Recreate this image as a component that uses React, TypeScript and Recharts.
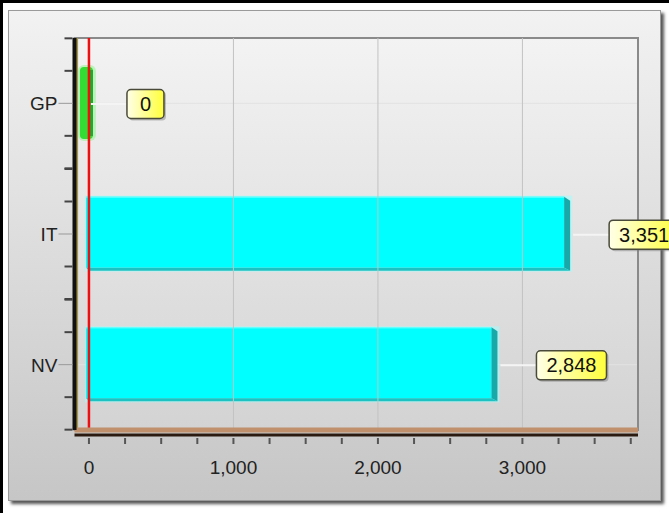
import React from 'react';
import {
    BarChart, Bar, XAxis, YAxis, CartesianGrid, ReferenceLine, ReferenceArea, LabelList, Cell,
} from 'recharts';

const categories = ['GP', 'IT', 'NV'];
const values = [0, 3351, 2848];
const barColors = ['#33dd33', '#00ffff', '#00ffff'];
const xTicks = [0, 250, 500, 750, 1000, 1250, 1500, 1750, 2000, 2250, 2500, 2750, 3000, 3250, 3500, 3750];
const gridValues = [1000, 2000, 3000];

const data = categories.map((name, i) => ({ name, value: values[i] }));

const FONT = '"Liberation Sans", Arial, sans-serif';
const BAND = 130;
const DOMAIN: [number, number] = [-100, 3800];

const fmt = (v: number) => v.toLocaleString('en-US');

const textWidth = (s: string, size: number) =>
    s.split('').reduce((w, ch) => w + (ch === ',' ? 0.278 : 0.556), 0) * size;

const Bar3D = (props: any) => {
    const { x, y, width, height, fill } = props;
    if (width < 5) {
        // zero value: narrow green stub
        return (
            <g>
                <rect x={x - 11} y={y - 1} width={18} height={height + 2} rx={6} fill="#9af59a" opacity={0.6} />
                <rect x={x - 9} y={y + 1} width={13} height={height - 2} rx={4} fill={fill} />
                <rect x={x + 1} y={y + 4} width={3} height={height - 8} fill="#22a82a" />
            </g>
        );
    }
    const bx = x - 3;
    return (
        <g>
            <rect x={bx - 1} y={y - 1} width={width + 3} height={height + 2} fill="#9ff" opacity={0.5} />
            <rect x={bx} y={y} width={width - 6} height={height - 3} fill={fill} />
            <polygon
                points={`${bx + width - 6},${y} ${bx + width},${y + 4} ${bx + width},${y + height} ${bx + width - 6},${y + height - 3}`}
                fill="#17a9a9"
            />
            <polygon
                points={`${bx},${y + height - 3} ${bx + width - 6},${y + height - 3} ${bx + width},${y + height} ${bx + 4},${y + height}`}
                fill="#1cc2c2"
            />
            <line x1={bx} y1={y + 0.5} x2={bx + width - 6} y2={y + 0.5} stroke="#7ff" />
        </g>
    );
};

const ValueLabel = (props: any) => {
    const { x, y, width, height, value } = props;
    const end = x + width;
    const cy = y + height / 2 + 1;
    const text = fmt(value);
    const bw = Math.max(37, textWidth(text, 20) + 20);
    const bh = 29;
    const bx = end + 36;
    return (
        <g>
            <line x1={end} y1={cy} x2={bx} y2={cy} stroke="#f4f4f4" strokeWidth={2} />
            <rect x={bx + 2} y={cy - bh / 2 + 2} width={bw} height={bh} rx={4} fill="#777" opacity={0.45} />
            <rect x={bx} y={cy - bh / 2} width={bw} height={bh} rx={4} fill="url(#labelBg)" stroke="#4a4a3a" strokeWidth={1.5} />
            <text x={bx + bw / 2} y={cy + 7} textAnchor="middle" fontFamily={FONT} fontSize={20} fill="#111">
                {text}
            </text>
        </g>
    );
};

const CategoryTick = (props: any) => {
    const { x, y, payload } = props;
    const minor = [-BAND / 2, -BAND / 4, BAND / 4, BAND / 2];
    return (
        <g>
            {minor.map((d) => (
                <line key={d} x1={x - 8} y1={y + d} x2={x} y2={y + d} stroke="#444" strokeWidth={2} />
            ))}
            <line x1={x - 14} y1={y} x2={x} y2={y} stroke="#999" />
            <text x={x - 15} y={y + 7} textAnchor="end" fontFamily={FONT} fontSize={19} fill="#222">
                {payload.value}
            </text>
        </g>
    );
};

const NumberTick = (props: any) => {
    const { x, y, payload } = props;
    const major = payload.value % 1000 === 0;
    return (
        <g>
            <line x1={x} y1={y + 3} x2={x} y2={y + 9} stroke="#555" strokeWidth={2} />
            {major && (
                <text x={x} y={y + 39} textAnchor="middle" fontFamily={FONT} fontSize={19} fill="#222">
                    {fmt(payload.value)}
                </text>
            )}
        </g>
    );
};

export default function App() {
    return (
        <div style={{ position: 'fixed', left: 0, top: 0, width: 669, height: 513, background: '#fff', overflow: 'hidden' }}>
            <div style={{ position: 'absolute', left: 0, top: 0, width: 669, height: 513, borderTop: '3px solid #000', borderLeft: '3px solid #000', boxSizing: 'border-box' }} />
            <div
                style={{
                    position: 'absolute', left: 8, top: 10, width: 651, height: 489,
                    background: 'linear-gradient(#f2f2f2, #c6c6c6)',
                    border: '1px solid #9a9a9a',
                    boxShadow: '3px 3px 3px #555',
                }}
            />
            <div style={{ position: 'absolute', left: 0, top: 0 }}>
                <BarChart
                    width={669}
                    height={513}
                    data={data}
                    layout="vertical"
                    margin={{ top: 38, right: 31, bottom: 28, left: 0 }}
                    barCategoryGap={28}
                >
                    <defs>
                        <linearGradient id="plotBg" x1="0" y1="0" x2="0" y2="1">
                            <stop offset="0%" stopColor="#f3f3f3" />
                            <stop offset="100%" stopColor="#d3d3d3" />
                        </linearGradient>
                        <linearGradient id="labelBg" x1="0" y1="0" x2="1" y2="0">
                            <stop offset="0%" stopColor="#ffffe8" />
                            <stop offset="100%" stopColor="#ffff3a" />
                        </linearGradient>
                    </defs>
                    <CartesianGrid fill="url(#plotBg)" vertical={false} stroke="#e2e2e2" />
                    <ReferenceArea x1={DOMAIN[0]} x2={DOMAIN[1]} fill="none" stroke="#8a8a8a" strokeWidth={2} />
                    <ReferenceArea x1={DOMAIN[0]} x2={-75} fill="#a8984e" fillOpacity={1} stroke="none" />
                    {gridValues.map((v) => (
                        <ReferenceLine key={v} x={v} stroke="#c2c2c2" />
                    ))}
                    {/* brown floor (default axis, nearest the plot) */}
                    <XAxis
                        type="number"
                        domain={DOMAIN}
                        height={5}
                        tick={false}
                        tickLine={false}
                        axisLine={{ stroke: '#c0906c', strokeWidth: 5 }}
                    />
                    <XAxis
                        xAxisId="ticks"
                        type="number"
                        domain={DOMAIN}
                        allowDataOverflow
                        ticks={xTicks}
                        interval={0}
                        height={50}
                        tickSize={0}
                        tickMargin={0}
                        axisLine={{ stroke: '#2a1a10', strokeWidth: 3 }}
                        tick={<NumberTick />}
                    />
                    <YAxis
                        type="category"
                        dataKey="name"
                        width={74.5}
                        tickSize={0}
                        axisLine={{ stroke: '#111', strokeWidth: 4 }}
                        tick={<CategoryTick />}
                    />
                    <ReferenceLine x={0} stroke="#ee1010" strokeWidth={2.5} />
                    <Bar dataKey="value" barSize={74} minPointSize={2} shape={<Bar3D />} isAnimationActive={false}>
                        {data.map((d, i) => (
                            <Cell key={d.name} fill={barColors[i]} />
                        ))}
                        <LabelList dataKey="value" content={<ValueLabel />} />
                    </Bar>
                </BarChart>
            </div>
        </div>
    );
}
